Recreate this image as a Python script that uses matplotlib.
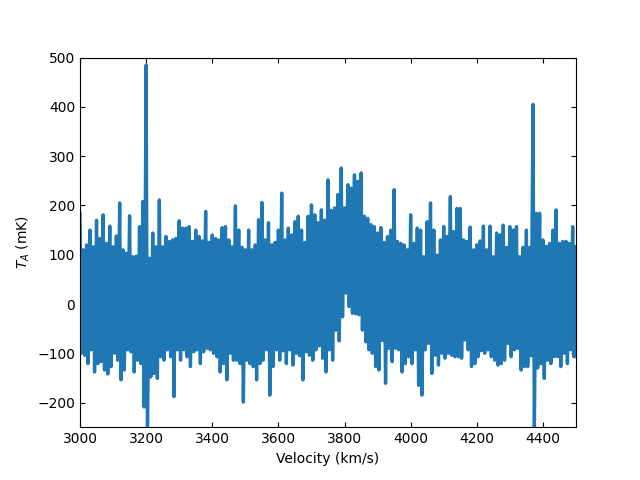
#!/usr/bin/env python3

import matplotlib
matplotlib.use('Agg')
import matplotlib.pyplot as plt
import numpy as np

# Spectrum: channel velocities (km/s) every 10 km/s,
# with the highest and lowest antenna temperature (mK) seen near each one.
velocity = np.arange(3000, 4501, 10)

upper_ta = [
    184, 110, 120, 150, 116, 170, 133, 181, 123, 158, 116, 138, 205, 110, 103, 179,
    96, 97, 157, 208, 485, 93, 144, 116, 211, 116, 137, 127, 130, 133, 169,
    154, 154, 157, 127, 150, 137, 128, 188, 125, 140, 133, 130, 155, 157, 130,
    116, 199, 150, 115, 110, 150, 110, 120, 171, 206, 130, 165, 120, 125, 150,
    225, 130, 154, 140, 167, 178, 150, 125, 178, 201, 181, 165, 191, 170, 252,
    190, 195, 222, 276, 195, 242, 235, 262, 249, 266, 178, 174, 161, 157, 144,
    155, 125, 137, 150, 232, 127, 123, 120, 110, 181, 123, 154, 150, 96, 167,
    205, 150, 99, 130, 157, 137, 218, 147, 194, 194, 130, 127, 156, 110, 120,
    128, 158, 110, 158, 96, 144, 140, 160, 115, 157, 150, 157, 96, 115, 150,
    115, 405, 184, 184, 130, 117, 123, 150, 191, 123, 127, 127, 123, 157, 117,
]

lower_ta = [
    -100, -104, -121, -93, -138, -121, -117, -134, -142, -127, -100, -114, -154, -134, -93, -97,
    -138, -114, -121, -209, -260, -148, -141, -151, -107, -114, -93, -107, -188, -93, -114,
    -93, -107, -127, -97, -93, -121, -97, -90, -93, -100, -107, -138, -121, -154, -100,
    -114, -114, -121, -199, -114, -121, -127, -154, -121, -114, -93, -185, -127, -93, -114,
    -95, -121, -93, -124, -100, -105, -154, -97, -104, -114, -93, -85, -110, -138, -93,
    -114, -53, -75, -26, 22, -5, -19, -20, -22, -53, -77, -93, -100, -127, -134,
    -74, -161, -90, -117, -90, -93, -138, -121, -107, -121, -93, -165, -185, -93, -80,
    -141, -104, -124, -100, -110, -100, -104, -107, -107, -110, -73, -93, -127, -121, -107,
    -95, -100, -93, -107, -114, -124, -121, -114, -80, -107, -93, -90, -134, -127, -127,
    -105, -260, -130, -121, -151, -114, -121, -107, -107, -127, -100, -121, -93, -107, -107,
]

# alternate high and low channels so the trace swings like the noisy spectrum
vel = np.empty(2 * len(velocity))
ta = np.empty(2 * len(velocity))
vel[0::2] = velocity
vel[1::2] = velocity + 4
ta[0::2] = upper_ta
ta[1::2] = lower_ta

fig = plt.figure(figsize=(6.4, 4.8), dpi=100)
ax = fig.add_subplot(1, 1, 1)

ax.plot(vel, ta, color='#1f77b4', linewidth=2.4)

ax.set_xlim(3000, 4500)
ax.set_ylim(-250, 500)
ax.tick_params(direction='in', top=True, right=True)
ax.set_xlabel('Velocity (km/s)')
ax.set_ylabel('$T_A$ (mK)')

plt.savefig('out.png', dpi=100)
